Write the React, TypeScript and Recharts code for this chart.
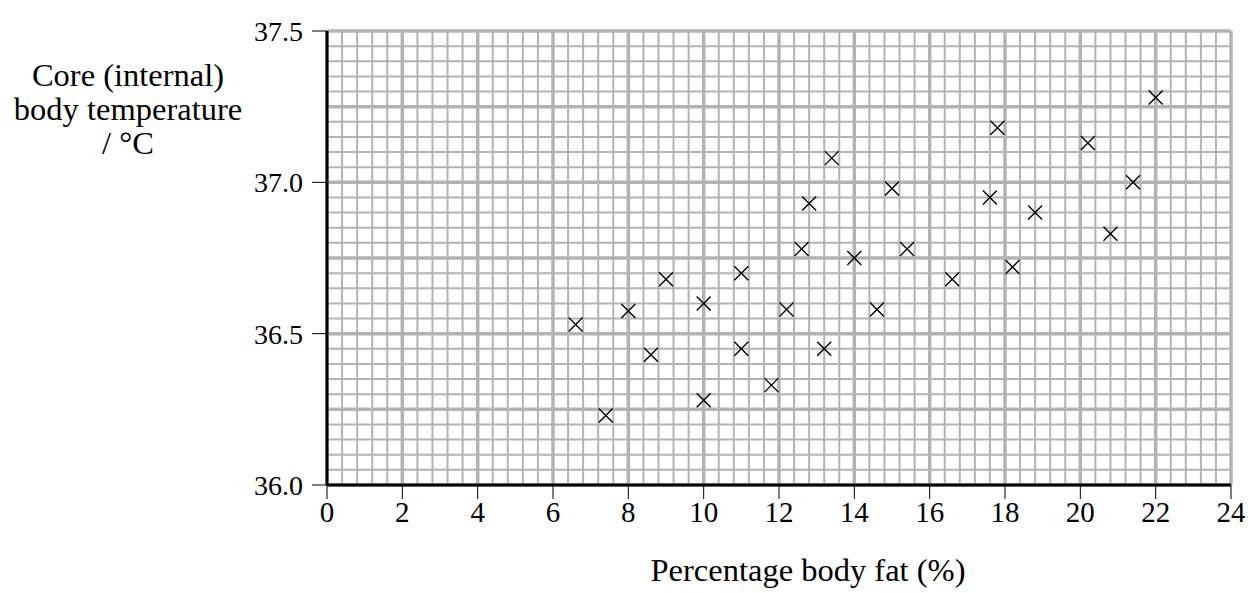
import { ScatterChart, Scatter, XAxis, YAxis, ReferenceLine } from 'recharts';

const bodyFat = [6.6, 7.4, 8.0, 8.6, 9.0, 10, 10, 11, 11, 11.8, 12.2, 12.6, 12.8, 13.2, 13.4, 14.0, 14.6, 15.0, 15.4, 16.6, 17.6, 17.8, 18.2, 18.8, 20.2, 20.8, 21.4, 22];
const coreTemp = [36.53, 36.23, 36.575, 36.43, 36.68, 36.6, 36.28, 36.7, 36.45, 36.33, 36.58, 36.78, 36.93, 36.45, 37.08, 36.75, 36.58, 36.98, 36.78, 36.68, 36.95, 37.18, 36.72, 36.9, 37.13, 36.83, 37.0, 37.28];
const xTicks = [0, 2, 4, 6, 8, 10, 12, 14, 16, 18, 20, 22, 24];
const yTicks = [36.0, 36.5, 37.0, 37.5];

const points = bodyFat.map((x, i) => ({ x, y: coreTemp[i] }));

// graph paper: 5 small squares per big square
const xGrid = Array.from({ length: 61 }, (_, i) => ({ v: +(i * 0.4).toFixed(1), major: i % 5 === 0 }));
const yGrid = Array.from({ length: 31 }, (_, i) => ({ v: +(36 + i * 0.05).toFixed(2), major: i % 5 === 0 }));

const font = "'Liberation Serif', 'Times New Roman', serif";
const gridGrey = '#b3b3b3';

const Cross = (props: any) => {
  const { cx, cy } = props;
  const s = 7;
  return (
    <g stroke="#000" strokeWidth={1.4}>
      <line x1={cx - s} y1={cy - s} x2={cx + s} y2={cy + s} />
      <line x1={cx - s} y1={cy + s} x2={cx + s} y2={cy - s} />
    </g>
  );
};

export default function App() {
  return (
    <div style={{ position: 'relative', width: 1240, height: 580, fontFamily: font }}>
      <ScatterChart width={1240} height={580} margin={{ top: 23, right: 17, left: 259, bottom: 63 }}>
        {xGrid.filter((g) => !g.major).map((g) => (
          <ReferenceLine key={'xm' + g.v} x={g.v} stroke={gridGrey} strokeWidth={2} />
        ))}
        {yGrid.filter((g) => !g.major).map((g) => (
          <ReferenceLine key={'ym' + g.v} y={g.v} stroke={gridGrey} strokeWidth={2} />
        ))}
        {xGrid.filter((g) => g.major).map((g) => (
          <ReferenceLine key={'xM' + g.v} x={g.v} stroke={gridGrey} strokeWidth={3.5} />
        ))}
        {yGrid.filter((g) => g.major).map((g) => (
          <ReferenceLine key={'yM' + g.v} y={g.v} stroke={gridGrey} strokeWidth={3.5} />
        ))}
        <ReferenceLine x={0} stroke="#000" strokeWidth={3} />
        <ReferenceLine y={36} stroke="#000" strokeWidth={3} />
        <XAxis
          type="number"
          dataKey="x"
          domain={[0, 24]}
          ticks={xTicks}
          interval={0}
          height={40}
          axisLine={false}
          tickSize={14}
          tickLine={{ stroke: '#000', strokeWidth: 1 }}
          tick={{ fill: '#000', fontSize: 29, fontFamily: font }}
        />
        <YAxis
          type="number"
          dataKey="y"
          domain={[36, 37.5]}
          ticks={yTicks}
          interval={0}
          width={60}
          axisLine={false}
          tickSize={15}
          tickMargin={9}
          tickFormatter={(v: number) => v.toFixed(1)}
          tickLine={{ stroke: '#000', strokeWidth: 1 }}
          tick={{ fill: '#000', fontSize: 28, fontFamily: font }}
        />
        <Scatter data={points} shape={<Cross />} isAnimationActive={false} />
      </ScatterChart>
      <div
        style={{
          position: 'absolute', left: 0, top: 50, width: 240, textAlign: 'center',
          fontSize: 32.5, lineHeight: '34px', color: '#000',
        }}
      >
        <div>Core (internal)</div>
        <div>body temperature</div>
        <div>/ °C</div>
      </div>
      <div
        style={{
          position: 'absolute', left: 550, top: 544, width: 500, textAlign: 'center',
          fontSize: 32.5, lineHeight: '36px', color: '#000',
        }}
      >
        Percentage body fat (%)
      </div>
    </div>
  );
}
